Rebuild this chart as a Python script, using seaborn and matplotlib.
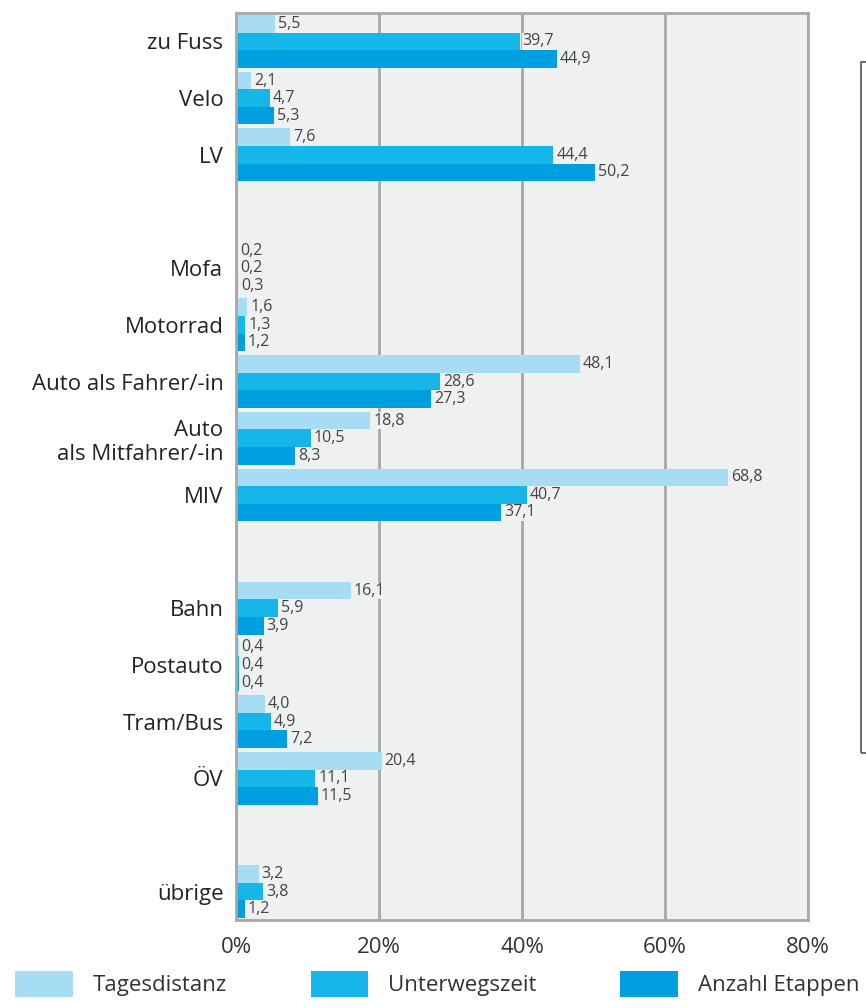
import matplotlib.pyplot as plt
import matplotlib.patches as mpatches
import seaborn as sns
import pandas as pd

# Data
categories = ["zu Fuss", "Velo", "LV", " ",
              "Mofa", "Motorrad", "Auto als Fahrer/-in", "Auto\nals Mitfahrer/-in", "MIV", "  ",
              "Bahn", "Postauto", "Tram/Bus", "ÖV", "   ",
              "übrige"]
data_cats = ["zu Fuss", "Velo", "LV",
             "Mofa", "Motorrad", "Auto als Fahrer/-in", "Auto\nals Mitfahrer/-in", "MIV",
             "Bahn", "Postauto", "Tram/Bus", "ÖV",
             "übrige"]
tagesdistanz = [5.5, 2.1, 7.6, 0.2, 1.6, 48.1, 18.8, 68.8, 16.1, 0.4, 4.0, 20.4, 3.2]
unterwegszeit = [39.7, 4.7, 44.4, 0.2, 1.3, 28.6, 10.5, 40.7, 5.9, 0.4, 4.9, 11.1, 3.8]
etappen = [44.9, 5.3, 50.2, 0.3, 1.2, 27.3, 8.3, 37.1, 3.9, 0.4, 7.2, 11.5, 1.2]
series = ["Tagesdistanz", "Unterwegszeit", "Anzahl Etappen"]
colors = ["#a6dcf4", "#16b6e8", "#009fe0"]
xticks = [0, 20, 40, 60, 80]

df = pd.concat([
    pd.DataFrame({"cat": data_cats, "value": vals, "serie": name})
    for name, vals in zip(series, [tagesdistanz, unterwegszeit, etappen])
])

bg = "#eff0f0"
grid_col = "#a8a8a8"
sns.set_style("white")
plt.rcParams["font.family"] = ["Open Sans", "DejaVu Sans"]

fig = plt.figure(figsize=(8.66, 10.08), dpi=100)
ax = fig.add_axes([0.2725, 0.0873, 0.933 - 0.2725, 0.987 - 0.0873])
ax.set_facecolor(bg)

sns.barplot(data=df, y="cat", x="value", hue="serie", order=categories,
            hue_order=series, palette=colors, orient="h", width=0.93,
            saturation=1, linewidth=0, ax=ax, zorder=2)

ax.set_xlim(0, 80)
ax.set_xticks(xticks)
ax.set_xticklabels([f"{t}%" for t in xticks], fontsize=16, color="#333333")
ax.tick_params(axis="y", labelsize=16, length=0, pad=9, labelcolor="#222222")
ax.tick_params(axis="x", length=6, width=2, color=grid_col, pad=6)
ax.set_xlabel("")
ax.set_ylabel("")
ax.grid(axis="x", color=grid_col, linewidth=2, zorder=1)
ax.set_axisbelow(True)
for sp in ax.spines.values():
    sp.set_color(grid_col)
    sp.set_linewidth(2)

for cont in ax.containers:
    ax.bar_label(cont, fmt=lambda v: f"{v:.1f}".replace(".", ","), padding=2,
                 fontsize=11.5, color="#444444", zorder=3,
                 bbox=dict(facecolor=bg, edgecolor="none", pad=0.1))

handles, labels = ax.get_legend_handles_labels()
ax.get_legend().remove()
fig.legend(handles, labels, loc="lower left", bbox_to_anchor=(0.005, 0.0, 1.0, 0.05),
           mode="expand", ncol=3, frameon=False, fontsize=16, handlelength=2.6,
           handleheight=1.4, handletextpad=0.9, borderaxespad=0.1, labelcolor="#333333")

# partially visible box at the right edge
fig.patches.append(mpatches.Rectangle((861 / 866, 1 - 753 / 1008), 0.2, (753 - 62) / 1008,
                                      transform=fig.transFigure, fill=False,
                                      edgecolor="#555555", linewidth=1.2))

fig.savefig("out.png", dpi=100)
